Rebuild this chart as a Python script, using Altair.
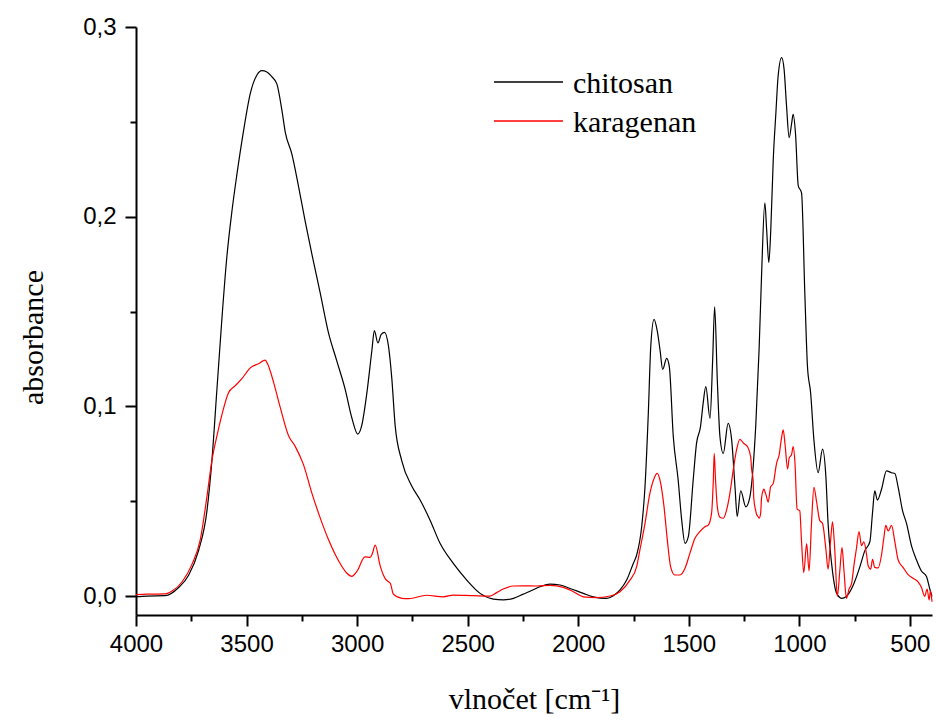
import altair as alt
import pandas as pd

# ---- data ----
chitosan_wn = [4000, 3950, 3868, 3807, 3762, 3717, 3679, 3657, 3634, 3611, 3589, 3566, 3544, 3514,
               3483, 3453, 3431, 3408, 3385, 3363, 3340, 3325, 3295, 3265, 3235, 3205, 3167, 3130,
               3092, 3054, 3024, 2997, 2979, 2956, 2933, 2922, 2906, 2891, 2876, 2858, 2843, 2828,
               2798, 2753, 2715, 2670, 2625, 2565, 2504, 2444, 2384, 2339, 2293, 2248, 2218, 2173,
               2128, 2082, 2037, 1977, 1932, 1871, 1841, 1811, 1781, 1751, 1736, 1713, 1698, 1683,
               1672, 1657, 1643, 1630, 1618, 1600, 1588, 1570, 1548, 1532, 1517, 1502, 1480, 1465,
               1447, 1435, 1423, 1404, 1392, 1383, 1371, 1359, 1344, 1322, 1306, 1291, 1281, 1265,
               1242, 1224, 1209, 1197, 1182, 1171, 1156, 1148, 1138, 1129, 1118, 1106, 1096, 1080,
               1069, 1058, 1046, 1035, 1028, 1017, 1005, 990, 975, 963, 949, 934, 915, 895, 880,
               870, 854, 832, 809, 787, 757, 727, 704, 681, 669, 659, 647, 628, 606, 583, 568, 553,
               533, 515, 493, 470, 448, 425, 410, 400]
chitosan_abs = [-0.0003, 0.0, 0.0002, 0.0045, 0.011, 0.024, 0.045, 0.071, 0.109, 0.147, 0.179, 0.203,
                0.222, 0.245, 0.265, 0.2747, 0.277, 0.2763, 0.2737, 0.270, 0.256, 0.2446, 0.233,
                0.216, 0.1977, 0.1805, 0.1598, 0.139, 0.124, 0.109, 0.094, 0.0854, 0.090, 0.107,
                0.1297, 0.140, 0.1334, 0.138, 0.139, 0.1316, 0.1146, 0.090, 0.0713, 0.058, 0.0506,
                0.040, 0.0278, 0.0172, 0.0084, 0.0014, -0.0016, -0.002, -0.0012, 0.001, 0.0025,
                0.0049, 0.0063, 0.0058, 0.004, 0.0014, -0.0004, -0.0012, 0.0002, 0.0032, 0.0084,
                0.0172, 0.0215, 0.0365, 0.0576, 0.0963, 0.1314, 0.1459, 0.140, 0.1297, 0.1195,
                0.1253, 0.1209, 0.084, 0.0612, 0.040, 0.0278, 0.0313, 0.0612, 0.0805, 0.0893,
                0.1016, 0.1104, 0.0937, 0.1244, 0.1525, 0.1139, 0.084, 0.0752, 0.091, 0.0822,
                0.0576, 0.042, 0.0555, 0.047, 0.052, 0.068, 0.090, 0.130, 0.1685, 0.2073, 0.1935,
                0.1758, 0.1935, 0.2299, 0.2548, 0.274, 0.2839, 0.2778, 0.2586, 0.2417, 0.249,
                0.2539, 0.2433, 0.2164, 0.2126, 0.159, 0.1206, 0.1072, 0.0822, 0.065, 0.0775,
                0.0631, 0.0382, 0.0171, 0.0017, -0.0012, -0.0002, 0.0055, 0.0151, 0.0238, 0.0286,
                0.0439, 0.0554, 0.0506, 0.0564, 0.066, 0.065, 0.0646, 0.0573, 0.0449, 0.0382,
                0.0266, 0.019, 0.0132, 0.0103, 0.0037, -0.0002]

karagenan_wn = [4000, 3950, 3868, 3837, 3792, 3747, 3709, 3679, 3657, 3634, 3611, 3582, 3551, 3521,
                3483, 3446, 3416, 3404, 3378, 3348, 3310, 3280, 3243, 3205, 3167, 3130, 3084, 3046,
                3024, 3001, 2964, 2941, 2931, 2918, 2896, 2873, 2858, 2849, 2836, 2798, 2768, 2685,
                2610, 2565, 2474, 2399, 2369, 2339, 2293, 2248, 2188, 2128, 2067, 2022, 1977, 1917,
                1856, 1811, 1766, 1736, 1721, 1698, 1676, 1657, 1643, 1627, 1612, 1597, 1582, 1563,
                1540, 1517, 1495, 1472, 1450, 1427, 1412, 1397, 1389, 1385, 1379, 1371, 1359, 1344,
                1329, 1314, 1299, 1284, 1269, 1251, 1234, 1220, 1216, 1209, 1206, 1198, 1193, 1186,
                1182, 1175, 1171, 1163, 1160, 1153, 1151, 1141, 1130, 1118, 1103, 1091, 1082, 1073,
                1065, 1053, 1046, 1035, 1028, 1020, 1010, 998, 990, 980, 967, 956, 945, 934, 922,
                908, 895, 880, 870, 859, 850, 840, 828, 817, 807, 798, 787, 775, 764, 752, 742, 730,
                719, 708, 696, 689, 677, 669, 659, 644, 628, 618, 609, 598, 583, 568, 553, 531, 508,
                486, 463, 448, 433, 422, 413, 407, 400]
karagenan_abs = [0.0007, 0.001, 0.0011, 0.0026, 0.0074, 0.0167, 0.0299, 0.0525, 0.0713, 0.0845,
                 0.0958, 0.1071, 0.1109, 0.1146, 0.1203, 0.1225, 0.1244, 0.1222, 0.1128, 0.0996,
                 0.0845, 0.0789, 0.0694, 0.0544, 0.0412, 0.0299, 0.0186, 0.012, 0.0104, 0.013,
                 0.0206, 0.0204, 0.0224, 0.0268, 0.016, 0.0092, 0.0075, 0.0065, 0.001, -0.0012,
                 -0.0014, 0.0004, -0.0004, 0.0005, 0.0002, 0.0, 0.0018, 0.0037, 0.0053, 0.0054,
                 0.0053, 0.0056, 0.0046, 0.0023, -0.0004, -0.0008, 0.0, 0.0023, 0.0084, 0.0154,
                 0.0243, 0.0383, 0.0541, 0.062, 0.0647, 0.0594, 0.0471, 0.0295, 0.0154, 0.0111,
                 0.0111, 0.0146, 0.0225, 0.0304, 0.0339, 0.0365, 0.0374, 0.0436, 0.0612, 0.0752,
                 0.0612, 0.0471, 0.0415, 0.041, 0.0453, 0.0541, 0.0664, 0.077, 0.0826, 0.0804,
                 0.0787, 0.0734, 0.067, 0.0612, 0.0516, 0.0453, 0.043, 0.0418, 0.041, 0.0436,
                 0.0516, 0.0559, 0.0564, 0.0541, 0.0535, 0.0495, 0.0575, 0.0594, 0.070, 0.0746,
                 0.0822, 0.0876, 0.0804, 0.067, 0.0727, 0.0746, 0.0788, 0.0708, 0.0458, 0.0449,
                 0.0286, 0.0123, 0.0276, 0.0132, 0.0382, 0.0573, 0.0497, 0.040, 0.0382, 0.0248,
                 0.0142, 0.0286, 0.0391, 0.0248, -0.0002, 0.0132, 0.0257, 0.0132, -0.0012, 0.0037,
                 0.0065, 0.0171, 0.0248, 0.034, 0.0266, 0.0286, 0.0219, 0.0161, 0.0142, 0.0194,
                 0.0151, 0.0148, 0.0219, 0.0305, 0.0372, 0.0343, 0.0372, 0.0286, 0.019, 0.0151,
                 0.0113, 0.0094, 0.0075, 0.0046, -0.0002, 0.0037, -0.0021, 0.0027, -0.003]

series_names = ["chitosan", "karagenan"]
series_colors = ["#000000", "#ff0000"]
x_tick_values = list(range(500, 4001, 250))
y_tick_values = [0.0, 0.05, 0.1, 0.15, 0.2, 0.25, 0.3]

df = pd.concat([
    pd.DataFrame({"wn": chitosan_wn, "a": chitosan_abs, "s": series_names[0]}),
    pd.DataFrame({"wn": karagenan_wn, "a": karagenan_abs, "s": series_names[1]}),
], ignore_index=True)

W, H = 796, 588

x_axis = alt.Axis(
    values=x_tick_values, format="d",
    labelExpr="datum.value % 500 === 0 ? datum.label : ''",
    tickSize={"condition": {"test": "datum.value % 500 === 0", "value": 11}, "value": 6},
    labelFont="Liberation Sans", labelFontSize=24, labelPadding=6, labelOverlap=False,
    labelFlush=False,
    title="vlnočet [cm⁻¹]", titleFont="Liberation Serif", titleFontSize=30,
    titleFontWeight="normal", titleBaseline="alphabetic", titleY=93,
)
y_axis = alt.Axis(
    values=y_tick_values,
    labelExpr="round(datum.value * 100) % 10 === 0 ? replace(format(datum.value, '.1f'), '.', ',') : ''",
    tickSize={"condition": {"test": "round(datum.value * 100) % 10 === 0", "value": 11}, "value": 6},
    labelFont="Liberation Sans", labelFontSize=24, labelPadding=9, labelOverlap=False,
    labelFlush=False,
    title="absorbance", titleFont="Liberation Serif", titleFontSize=30,
    titleFontWeight="normal", titleAngle=-90, titleAlign="center", titleBaseline="middle",
    titleX=-103, titleY=310,
)

lines = alt.Chart(df).mark_line(strokeWidth=1.2, interpolate="monotone").encode(
    x=alt.X("wn:Q", scale=alt.Scale(domain=[400, 4000], reverse=True, nice=False, zero=False), axis=x_axis),
    y=alt.Y("a:Q", scale=alt.Scale(domain=[-0.01, 0.3], nice=False, zero=False), axis=y_axis),
    color=alt.Color("s:N", scale=alt.Scale(domain=series_names, range=series_colors), legend=None),
)

legend_layers = []
for i, (name, col) in enumerate(zip(series_names, series_colors)):
    ldf = pd.DataFrame({"s": [name]})
    legend_layers.append(
        alt.Chart(ldf).mark_rule(color=col, strokeWidth=1.3).encode(
            x=alt.value(358), x2=alt.value(427), y=alt.value(55 + 39 * i)))
    legend_layers.append(
        alt.Chart(ldf).mark_text(align="left", baseline="alphabetic", font="Liberation Serif",
                                 fontSize=30, color="black").encode(
            x=alt.value(437), y=alt.value(66 + 39 * i), text="s:N"))

chart = alt.layer(lines, *legend_layers).properties(
    width=W, height=H,
    autosize=alt.AutoSizeParams(type="none"),
    padding={"left": 136, "top": 27, "right": 4, "bottom": 105},
).configure_view(stroke=None).configure_axis(
    grid=False, domainColor="black", domainWidth=2, tickColor="black", tickWidth=2,
    labelColor="black", titleColor="black",
)

chart.save("out.html", embed_options={"renderer": "svg", "actions": False})
